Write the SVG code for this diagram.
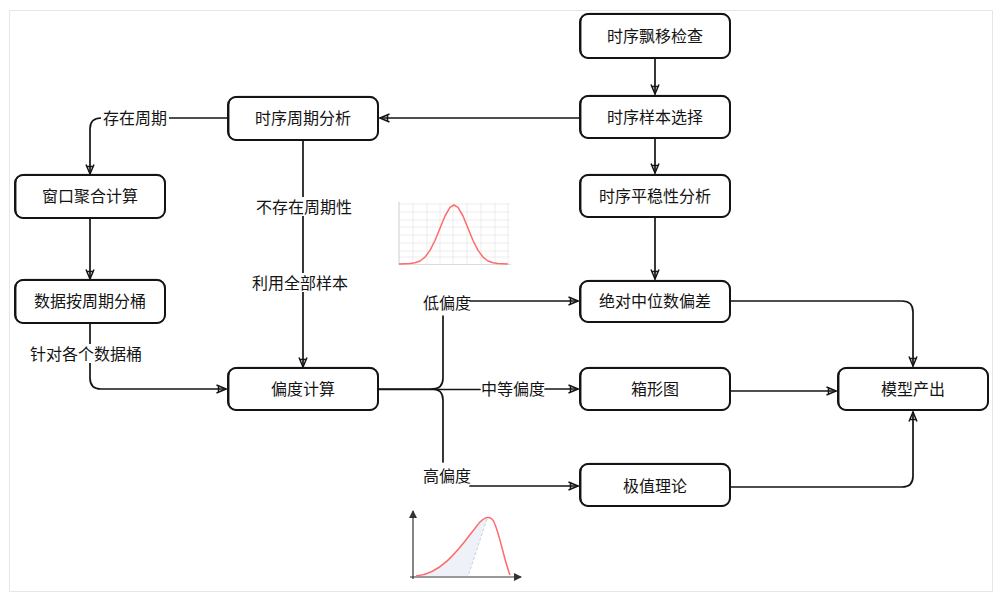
<svg xmlns="http://www.w3.org/2000/svg" width="1002" height="602" viewBox="0 0 1002 602">
<style>
.box{fill:#fff;stroke:#141414;stroke-width:2}
.box2{fill:none;stroke:#141414;stroke-width:0.9}
.t{font-family:"Noto Sans CJK SC","Noto Sans",sans-serif;font-size:16px;fill:#141414;text-anchor:middle;dominant-baseline:central}
.ln{fill:none;stroke:#141414;stroke-width:1.7;stroke-linecap:round;stroke-linejoin:round}
.lbg{fill:#fff}
.grid{stroke:#e8e8e8;stroke-width:0.8}
</style>
<defs>
<marker id="ar" viewBox="0 0 12 10" refX="11" refY="5" markerWidth="12" markerHeight="10" markerUnits="userSpaceOnUse" orient="auto">
<path d="M1.5,1 L11,5 L1.5,9 M3.5,2 L3.5,8" fill="none" stroke="#141414" stroke-width="1.5" stroke-linejoin="round"/>
</marker>
<marker id="ax" viewBox="0 0 8 8" refX="7" refY="4" markerWidth="8" markerHeight="8" markerUnits="userSpaceOnUse" orient="auto">
<path d="M0,0 L8,4 L0,8 Z" fill="#333"/>
</marker>
</defs>
<rect x="9.5" y="10.5" width="983" height="581" fill="#fff" stroke="#e6e6e6" stroke-width="1"/>

<!-- charts -->
<g id="chart-normal">
<g class="grid">
<line x1="413" y1="203" x2="413" y2="265"/><line x1="427" y1="203" x2="427" y2="265"/><line x1="440" y1="203" x2="440" y2="265"/><line x1="453" y1="203" x2="453" y2="265"/><line x1="467" y1="203" x2="467" y2="265"/><line x1="481" y1="203" x2="481" y2="265"/><line x1="495" y1="203" x2="495" y2="265"/><line x1="508" y1="203" x2="508" y2="265"/>
<line x1="399" y1="204" x2="510" y2="204"/><line x1="399" y1="212" x2="510" y2="212"/><line x1="399" y1="220" x2="510" y2="220"/><line x1="399" y1="227" x2="510" y2="227"/><line x1="399" y1="235" x2="510" y2="235"/><line x1="399" y1="243" x2="510" y2="243"/><line x1="399" y1="251" x2="510" y2="251"/><line x1="399" y1="257" x2="510" y2="257"/>
</g>
<line x1="399" y1="202" x2="399" y2="265" stroke="#c8cfcf" stroke-width="1"/>
<line x1="399" y1="264.5" x2="511" y2="264.5" stroke="#d8dddd" stroke-width="1"/>
<polyline fill="none" stroke="#ff6b6b" stroke-width="1.5" stroke-linejoin="round" points="399,264 410,263.6 415,262.8 420,261 425,257.1 430,250.4 435,240.5 440,228.2 445,216 450,207.4 454,205 458,207.4 463,216 468,228.2 473,240.5 478,250.4 483,257.1 488,261 493,262.8 498,263.6 508,264"/>
</g>

<g id="chart-skew">
<path d="M416,576 C445,574 465,540 480,522 C484,518 486,518 487,519 L468,576 Z" fill="#eef1f7"/>
<line x1="487" y1="519" x2="468" y2="576" stroke="#c9cfe0" stroke-width="1" stroke-dasharray="3,2"/>
<line x1="413" y1="579" x2="413" y2="511" stroke="#333" stroke-width="1.2" marker-end="url(#ax)"/>
<line x1="410" y1="577" x2="521" y2="577" stroke="#333" stroke-width="1.2" marker-end="url(#ax)"/>
<path d="M416,576 C445,574 465,540 480,522 C486,516 491,516 494,522 C500,535 504,560 510,575" fill="none" stroke="#ff6b6b" stroke-width="1.5"/>
</g>

<!-- connectors -->
<g id="connectors">
<path class="ln" d="M655,58 L655,94" marker-end="url(#ar)"/>
<path class="ln" d="M655,138 L655,173" marker-end="url(#ar)"/>
<path class="ln" d="M580,118 L380,118" marker-end="url(#ar)"/>
<path class="ln" d="M655,217 L655,279" marker-end="url(#ar)"/>
<path class="ln" d="M228,118 L101,118 Q90,118 90,129 L90,174" marker-end="url(#ar)"/>
<path class="ln" d="M90,218 L90,279" marker-end="url(#ar)"/>
<path class="ln" d="M90,323 L90,378 Q90,389 101,389 L226,389" marker-end="url(#ar)"/>
<path class="ln" d="M303,140 L303,367" marker-end="url(#ar)"/>
<path class="ln" d="M378,389 L432,389 Q443,389 443,378 L443,316"/>
<path class="ln" d="M470,301 L578,301" marker-end="url(#ar)"/>
<path class="ln" d="M378,389.5 L480,389.5"/>
<path class="ln" d="M545,389 L578,389" marker-end="url(#ar)"/>
<path class="ln" d="M432,389 Q443,389 443,400 L443,462"/>
<path class="ln" d="M470,486 L578,486" marker-end="url(#ar)"/>
<path class="ln" d="M730,301 L902,301 Q913,301 913,312 L913,366" marker-end="url(#ar)"/>
<path class="ln" d="M730,391 L836,391" marker-end="url(#ar)"/>
<path class="ln" d="M730,487 L902,487 Q913,487 913,476 L913,412" marker-end="url(#ar)"/>
<!-- labels -->
<rect class="lbg" x="101" y="108" width="68" height="19"/>
<text class="t" x="135" y="117">存在周期</text>
<rect class="lbg" x="26" y="344" width="120" height="19"/>
<text class="t" x="86" y="353">针对各个数据桶</text>
<rect class="lbg" x="253" y="197" width="102" height="19"/>
<text class="t" x="304" y="206">不存在周期性</text>
<rect class="lbg" x="249" y="273" width="102" height="19"/>
<text class="t" x="300" y="282">利用全部样本</text>
<text class="t" x="447" y="302">低偏度</text>
<text class="t" x="513" y="388">中等偏度</text>
<text class="t" x="447" y="475">高偏度</text>
</g>

<!-- nodes -->
<g id="n-drift"><rect class="box" x="580" y="14" width="150" height="44" rx="8"/><rect class="box2" x="581" y="13.4" width="149" height="44.8" rx="8"/><text class="t" x="655" y="35">时序飘移检查</text></g>
<g id="n-sample"><rect class="box" x="580" y="96" width="150" height="42" rx="8"/><rect class="box2" x="581" y="95.4" width="149" height="42.8" rx="8"/><text class="t" x="655" y="116">时序样本选择</text></g>
<g id="n-stationary"><rect class="box" x="580" y="175" width="150" height="42" rx="8"/><rect class="box2" x="581" y="174.4" width="149" height="42.8" rx="8"/><text class="t" x="655" y="195">时序平稳性分析</text></g>
<g id="n-period"><rect class="box" x="228" y="97" width="150" height="43" rx="8"/><rect class="box2" x="229" y="96.4" width="149" height="43.8" rx="8"/><text class="t" x="303" y="117">时序周期分析</text></g>
<g id="n-window"><rect class="box" x="15" y="175" width="150" height="43" rx="8"/><rect class="box2" x="16" y="174.4" width="149" height="43.8" rx="8"/><text class="t" x="90" y="195">窗口聚合计算</text></g>
<g id="n-bucket"><rect class="box" x="15" y="280" width="150" height="43" rx="8"/><rect class="box2" x="16" y="279.4" width="149" height="43.8" rx="8"/><text class="t" x="90" y="300">数据按周期分桶</text></g>
<g id="n-skew"><rect class="box" x="228" y="368" width="150" height="42" rx="8"/><rect class="box2" x="229" y="367.4" width="149" height="42.8" rx="8"/><text class="t" x="303" y="388">偏度计算</text></g>
<g id="n-mad"><rect class="box" x="580" y="281" width="150" height="41" rx="8"/><rect class="box2" x="581" y="280.4" width="149" height="41.8" rx="8"/><text class="t" x="655" y="300">绝对中位数偏差</text></g>
<g id="n-box"><rect class="box" x="580" y="368" width="150" height="42" rx="8"/><rect class="box2" x="581" y="367.4" width="149" height="42.8" rx="8"/><text class="t" x="655" y="388">箱形图</text></g>
<g id="n-evt"><rect class="box" x="580" y="464" width="150" height="42" rx="8"/><rect class="box2" x="581" y="463.4" width="149" height="42.8" rx="8"/><text class="t" x="655" y="485">极值理论</text></g>
<g id="n-model"><rect class="box" x="838" y="368" width="150" height="42" rx="8"/><rect class="box2" x="839" y="367.4" width="149" height="42.8" rx="8"/><text class="t" x="913" y="388">模型产出</text></g>
</svg>
